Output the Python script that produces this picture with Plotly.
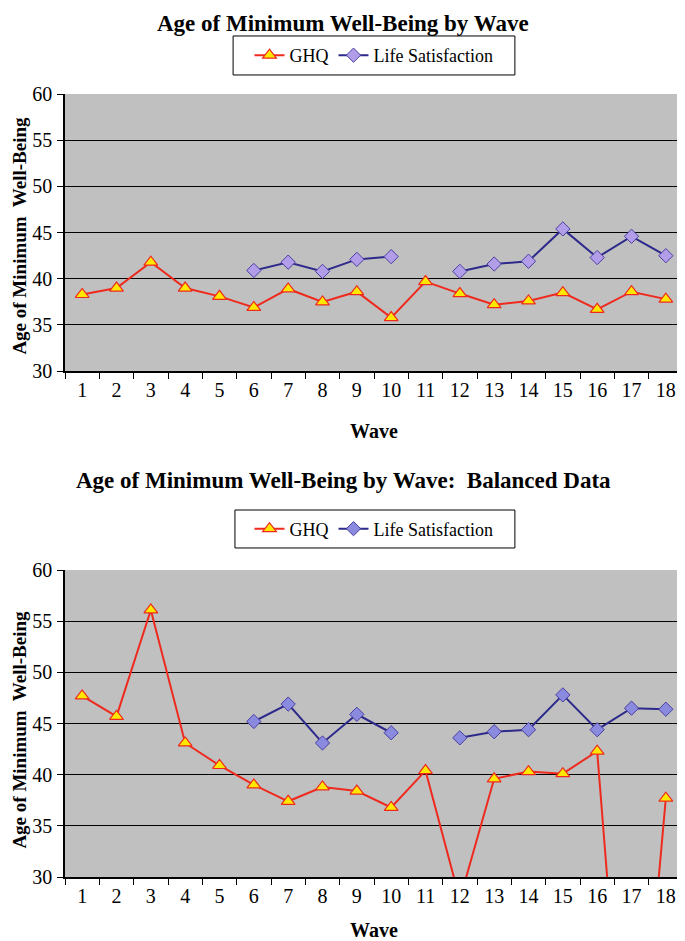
import plotly.graph_objects as go
from plotly.subplots import make_subplots

waves = list(range(1, 19))
wave_labels = [str(w) for w in waves]

ghq_all = [38.3, 39.0, 41.8, 39.0, 38.1, 36.9, 38.9, 37.5, 38.6, 35.8, 39.7, 38.4, 37.2, 37.6, 38.5, 36.7, 38.6, 37.8]
ls_all = [None, None, None, None, None, 40.9, 41.8, 40.8, 42.1, 42.4, None, 40.8, 41.6, 41.9, 45.4, 42.3, 44.6, 42.5]

ghq_bal = [47.7, 45.7, 56.1, 43.1, 40.9, 39.0, 37.4, 38.8, 38.4, 36.8, 40.4, 27.8, 39.6, 40.3, 40.1, 42.3, 0.0, 37.7]
ls_bal = [None, None, None, None, None, 45.2, 46.9, 43.1, 45.9, 44.1, None, 43.6, 44.2, 44.4, 47.8, 44.4, 46.5, 46.4]

title_top = "Age of Minimum Well-Being by Wave"
title_bot = "Age of Minimum Well-Being by Wave:  Balanced Data"
y_title = "Age of Minimum  Well-Being"
x_title = "Wave"

SERIF = "Liberation Serif, Times New Roman, serif"
RED = "#EE2A1E"
NAVY = "#2E2A8C"

fig = make_subplots(rows=2, cols=1)

def add_series(row, ghq, ls, diamond_fill, legend):
    fig.add_trace(go.Scatter(
        x=wave_labels, y=ghq, name="GHQ", mode="lines+markers",
        line=dict(color=RED, width=2),
        marker=dict(symbol="triangle-up", size=12, color="#FFE800",
                    line=dict(color=RED, width=1.2)),
        legend=legend, connectgaps=False), row=row, col=1)
    fig.add_trace(go.Scatter(
        x=wave_labels, y=ls, name="Life Satisfaction", mode="lines+markers",
        line=dict(color=NAVY, width=2),
        marker=dict(symbol="diamond", size=11, color=diamond_fill,
                    line=dict(color="#4A3FA0", width=1)),
        legend=legend, connectgaps=False), row=row, col=1)

add_series(1, ghq_all, ls_all, "#B29DE8", "legend")
add_series(2, ghq_bal, ls_bal, "#8A8ADF", "legend2")

axis_common_x = dict(
    type="category", tickson="boundaries", ticks="outside", ticklen=6,
    tickcolor="black", showline=True, linecolor="black", linewidth=1.5,
    mirror=False, showgrid=False, range=[-0.5, 17.5], automargin=False,
    tickfont=dict(family=SERIF, size=20, color="black"),
)
axis_common_y = dict(
    range=[30, 60], dtick=5, ticks="outside", ticklen=6, tickcolor="black",
    showline=True, linecolor="black", linewidth=1.5, automargin=False,
    showgrid=True, gridcolor="black", gridwidth=1.2, zeroline=False,
    tickfont=dict(family=SERIF, size=20, color="black"),
    ticklabelstandoff=1,
)

fig.update_xaxes(**axis_common_x)
fig.update_yaxes(**axis_common_y)
fig.update_xaxes(title=dict(text=x_title, font=dict(family=SERIF, size=20, color="black", weight="bold"), standoff=24), row=1, col=1)
fig.update_xaxes(title=dict(text=x_title, font=dict(family=SERIF, size=20, color="black", weight="bold"), standoff=19), row=2, col=1)

legend_style = dict(orientation="h", x=0.50, xanchor="center", yanchor="middle",
                    borderwidth=0, bgcolor="rgba(0,0,0,0)",
                    font=dict(family=SERIF, size=18, color="black"), itemwidth=30)

ytitle_font = dict(family=SERIF, size=19, color="black", weight="bold")
title_font = dict(family=SERIF, size=23, color="black", weight="bold")

fig.update_layout(
    width=677, height=933,
    margin=dict(l=57, r=2, t=86, b=64, autoexpand=False),
    paper_bgcolor="white", plot_bgcolor="#C0C0C0",
    yaxis=dict(domain=[0.646, 1.0]),
    yaxis2=dict(domain=[0.0, 0.392]),
    font=dict(family=SERIF, color="black"),
    legend=dict(y=1.0492, **legend_style),
    legend2=dict(y=0.4445, **legend_style),
    shapes=[
        dict(type="rect", xref="paper", yref="paper", x0=0.272, x1=0.728, y0=1.0243, y1=1.0741,
             line=dict(color="black", width=1), fillcolor="white", layer="below"),
        dict(type="rect", xref="paper", yref="paper", x0=0.275, x1=0.728, y0=0.4202, y1=0.4687,
             line=dict(color="black", width=1), fillcolor="white", layer="below"),
    ],
    annotations=[
        dict(text=title_top, xref="paper", yref="paper", x=0.45, y=1.1086,
             xanchor="center", yanchor="top", showarrow=False, font=title_font),
        dict(text=title_bot, xref="paper", yref="paper", x=0.45, y=0.507,
             xanchor="center", yanchor="middle", showarrow=False, font=title_font),
        dict(text=y_title, xref="paper", yref="paper", x=-0.0905, y=0.8186, xshift=-3,
             xanchor="left", yanchor="middle", textangle=-90, showarrow=False, font=ytitle_font),
        dict(text=y_title, xref="paper", yref="paper", x=-0.0905, y=0.1877, xshift=-3,
             xanchor="left", yanchor="middle", textangle=-90, showarrow=False, font=ytitle_font),
    ],
    showlegend=True,
)

fig.write_html("out.html")
